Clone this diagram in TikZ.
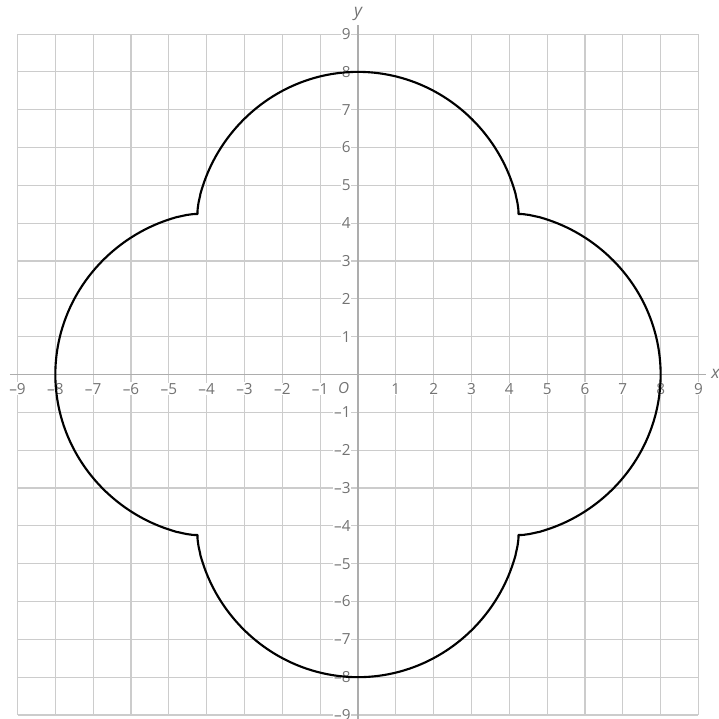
\documentclass[tikz,border=0pt]{standalone}
\usepackage{fontspec}
\setmainfont{Open Sans}
\begin{document}
\begin{tikzpicture}[x=1cm,y=1cm,
  gridline/.style={draw=black!20, line width=0.8pt},
  axisline/.style={draw=black!32, line width=1.4pt},
  ticklab/.style={font=\fontsize{11.5}{13}\selectfont, text=black!55, fill=white, inner sep=0.6pt},
  axlab/.style={font=\fontsize{13}{15}\selectfont\itshape, text=black!55, inner sep=0.5pt},
  curveline/.style={draw=black, line width=1.6pt, line join=round}]
\useasboundingbox (-9.463,-9.106) rectangle (9.532,9.90);
\draw[gridline] (-9,-9) grid (9,9);
\coordinate (xl) at (-9.2,0);
\coordinate (xr) at (9.2,0);
\coordinate (yb) at (0,-9.106);
\coordinate (yt) at (0,9.25);
\draw[axisline] (xl) -- (xr);
\draw[axisline] (yb) -- (yt);
\foreach \i in {1,...,9} {
  \node[ticklab] (xp\i) at (\i,-0.38) {\i};
  \node[ticklab] (xn\i) at (-\i,-0.38) {–\i};
  \node[ticklab, anchor=east] (yp\i) at (-0.17,\i) {\i};
  \node[ticklab, anchor=east] (yn\i) at (-0.17,-\i) {–\i};
}
\node[axlab] (xlab) at (9.45,0.03) {x};
\node[axlab] (ylab) at (0,9.52) {y};
\node[axlab, font=\fontsize{11.5}{13}\selectfont\itshape] (orig) at (-0.38,-0.37) {O};
\draw[curveline] plot[domain=0:360, samples=721] (\x:{6+2*(abs(cos(2*\x))+0.0001)^0.9}) -- cycle;
\end{tikzpicture}
\end{document}
